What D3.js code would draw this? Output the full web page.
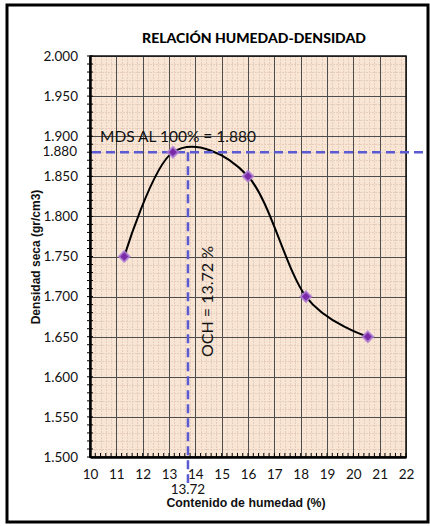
<!DOCTYPE html>
<html>
<head>
<meta charset="utf-8">
<script src="https://cdn.jsdelivr.net/npm/d3@7"></script>
<style>
  html, body { margin: 0; padding: 0; background: #ffffff; }
  svg { display: block; }
</style>
</head>
<body>
<svg id="chart" width="430" height="526"></svg>
<script>
// Ensayo Proctor: contenido de humedad (%) vs densidad seca (gr/cm3)
const humedad = [11.3, 13.15, 16.0, 18.2, 20.55];
const densidad = [1.750, 1.880, 1.850, 1.700, 1.650];

const xTicks = [10, 11, 12, 13, 14, 15, 16, 17, 18, 19, 20, 21, 22];
const yTicks = [1.500, 1.550, 1.600, 1.650, 1.700, 1.750, 1.800, 1.850, 1.900, 1.950, 2.000];

// Óptimo contenido de humedad y máxima densidad seca
const och = 13.72;
const mds = 1.880;

const titulo = "RELACIÓN HUMEDAD-DENSIDAD";
const tituloX = "Contenido de humedad (%)";
const tituloY = "Densidad seca (gr/cm3)";

const svg = d3.select("#chart");
const plot = { left: 90, right: 406, top: 56, bottom: 457 };

const x = d3.scaleLinear().domain([10, 22]).range([plot.left, plot.right]);
const y = d3.scaleLinear().domain([1.5, 2.0]).range([plot.bottom, plot.top]);

// marco exterior
svg.append("rect")
  .attr("x", 7).attr("y", 5)
  .attr("width", 421).attr("height", 517)
  .attr("fill", "#ffffff")
  .attr("stroke", "#000").attr("stroke-width", 3);

// fondo del área de trazado
svg.append("rect")
  .attr("x", plot.left).attr("y", plot.top)
  .attr("width", plot.right - plot.left).attr("height", plot.bottom - plot.top)
  .attr("fill", "#f8e5d4");

// cuadrícula menor
const minorX = d3.range(10, 22.001, 0.2).filter(v => Math.abs(v - Math.round(v)) > 1e-6);
const minorY = d3.range(1.5, 2.0001, 0.01).filter(v => Math.abs(v * 20 - Math.round(v * 20)) > 1e-6);
const gMinor = svg.append("g").attr("stroke", "#e6cdbd").attr("stroke-width", 1).attr("stroke-dasharray", "2,1");
gMinor.selectAll("line.mx").data(minorX).join("line")
  .attr("x1", d => Math.round(x(d)) + 0.5).attr("x2", d => Math.round(x(d)) + 0.5)
  .attr("y1", plot.top).attr("y2", plot.bottom);
gMinor.selectAll("line.my").data(minorY).join("line")
  .attr("y1", d => Math.round(y(d)) + 0.5).attr("y2", d => Math.round(y(d)) + 0.5)
  .attr("x1", plot.left).attr("x2", plot.right);

// cuadrícula mayor
const gMajor = svg.append("g").attr("stroke", "#4d4d4d").attr("stroke-width", 1);
gMajor.selectAll("line.vx").data(xTicks).join("line")
  .attr("x1", d => Math.round(x(d)) + 0.5).attr("x2", d => Math.round(x(d)) + 0.5)
  .attr("y1", plot.top).attr("y2", plot.bottom);
gMajor.selectAll("line.hy").data(yTicks).join("line")
  .attr("y1", d => Math.round(y(d)) + 0.5).attr("y2", d => Math.round(y(d)) + 0.5)
  .attr("x1", plot.left).attr("x2", plot.right);

// borde superior y derecho
svg.append("rect")
  .attr("x", plot.left).attr("y", plot.top)
  .attr("width", plot.right - plot.left).attr("height", plot.bottom - plot.top)
  .attr("fill", "none").attr("stroke", "#111").attr("stroke-width", 1.5);

// ejes con marcas menores
const xAxis = d3.axisBottom(x).tickValues(xTicks).tickSize(0).tickPadding(12)
  .tickFormat(d3.format("d"));
const gx = svg.append("g").attr("transform", `translate(0,${plot.bottom})`).call(xAxis);
gx.select(".domain").attr("stroke", "#000").attr("stroke-width", 2.5);
gx.selectAll("text").attr("font-family", "Lato, 'Open Sans', sans-serif").attr("font-size", 13.5).attr("fill", "#111");
svg.append("g").selectAll("line").data(minorX.concat(xTicks)).join("line")
  .attr("x1", d => x(d)).attr("x2", d => x(d))
  .attr("y1", plot.bottom - 4).attr("y2", plot.bottom + 1)
  .attr("stroke", "#000").attr("stroke-width", 1);

const yAxis = d3.axisLeft(y).tickValues(yTicks).tickSize(0).tickPadding(12)
  .tickFormat(d3.format(".3f"));
const gy = svg.append("g").attr("transform", `translate(${plot.left},0)`).call(yAxis);
gy.select(".domain").attr("stroke", "#000").attr("stroke-width", 2.5);
gy.selectAll("text").attr("font-family", "Lato, 'Open Sans', sans-serif").attr("font-size", 13.5).attr("fill", "#111");
svg.append("g").selectAll("line").data(minorY.concat(yTicks)).join("line")
  .attr("y1", d => y(d)).attr("y2", d => y(d))
  .attr("x1", plot.left - 3).attr("x2", plot.left + 3)
  .attr("stroke", "#000").attr("stroke-width", 1);

// curva suavizada
const line = d3.line()
  .x((d, i) => x(humedad[i]))
  .y(d => y(d))
  .curve(d3.curveCardinal.tension(0));
svg.append("path")
  .attr("d", line(densidad))
  .attr("fill", "none").attr("stroke", "#000").attr("stroke-width", 2);

// líneas de referencia MDS / OCH
const dash = "9,5";
svg.append("line")
  .attr("x1", plot.left + 2).attr("x2", 426)
  .attr("y1", y(mds)).attr("y2", y(mds))
  .attr("stroke", "#5a5ad2").attr("stroke-width", 2.5).attr("stroke-dasharray", dash);
svg.append("line")
  .attr("x1", x(och)).attr("x2", x(och))
  .attr("y1", y(mds)).attr("y2", plot.bottom + 26)
  .attr("stroke", "#5a5ad2").attr("stroke-width", 2.5).attr("stroke-dasharray", dash);

// puntos del ensayo (rombos)
const rombo = d3.symbol().type(d3.symbolSquare).size(56);
svg.append("g").selectAll("path").data(densidad).join("path")
  .attr("d", rombo)
  .attr("transform", (d, i) => `translate(${x(humedad[i])},${y(d)}) rotate(45)`)
  .attr("fill", "#7a2ca8")
  .attr("stroke", "#b07fd6").attr("stroke-width", 2).attr("stroke-opacity", 0.8);

// textos
svg.append("text")
  .attr("x", 254).attr("y", 43)
  .attr("text-anchor", "middle")
  .attr("font-family", "Lato, 'Open Sans', sans-serif").attr("font-weight", "900")
  .attr("font-size", 14).attr("fill", "#000")
  .text(titulo);

svg.append("text")
  .attr("x", 100).attr("y", 142)
  .attr("font-family", "Lato, 'Open Sans', sans-serif")
  .attr("font-size", 15.5).attr("fill", "#111")
  .text("MDS AL 100% = " + d3.format(".3f")(mds));

svg.append("text")
  .attr("x", 77).attr("y", y(mds) + 4)
  .attr("text-anchor", "end")
  .attr("font-family", "Lato, 'Open Sans', sans-serif")
  .attr("font-size", 13.5).attr("fill", "#111")
  .text(d3.format(".3f")(mds));

svg.append("text")
  .attr("transform", `translate(213,357) rotate(-90)`)
  .attr("font-family", "Lato, 'Open Sans', sans-serif")
  .attr("font-size", 16).attr("fill", "#111")
  .text("OCH = " + och + " %");

svg.append("text")
  .attr("x", x(och)).attr("y", 494)
  .attr("text-anchor", "middle")
  .attr("font-family", "Lato, 'Open Sans', sans-serif")
  .attr("font-size", 13.5).attr("fill", "#111")
  .text(och.toFixed(2));

svg.append("text")
  .attr("x", 246).attr("y", 507)
  .attr("text-anchor", "middle")
  .attr("font-family", "'Liberation Sans', Arial, sans-serif").attr("font-weight", "bold")
  .attr("font-size", 12.3).attr("fill", "#111")
  .text(tituloX);

svg.append("text")
  .attr("transform", `translate(40,257) rotate(-90)`)
  .attr("text-anchor", "middle")
  .attr("font-family", "'Liberation Sans', Arial, sans-serif").attr("font-weight", "bold")
  .attr("font-size", 12).attr("fill", "#111")
  .text(tituloY);
</script>
</body>
</html>
